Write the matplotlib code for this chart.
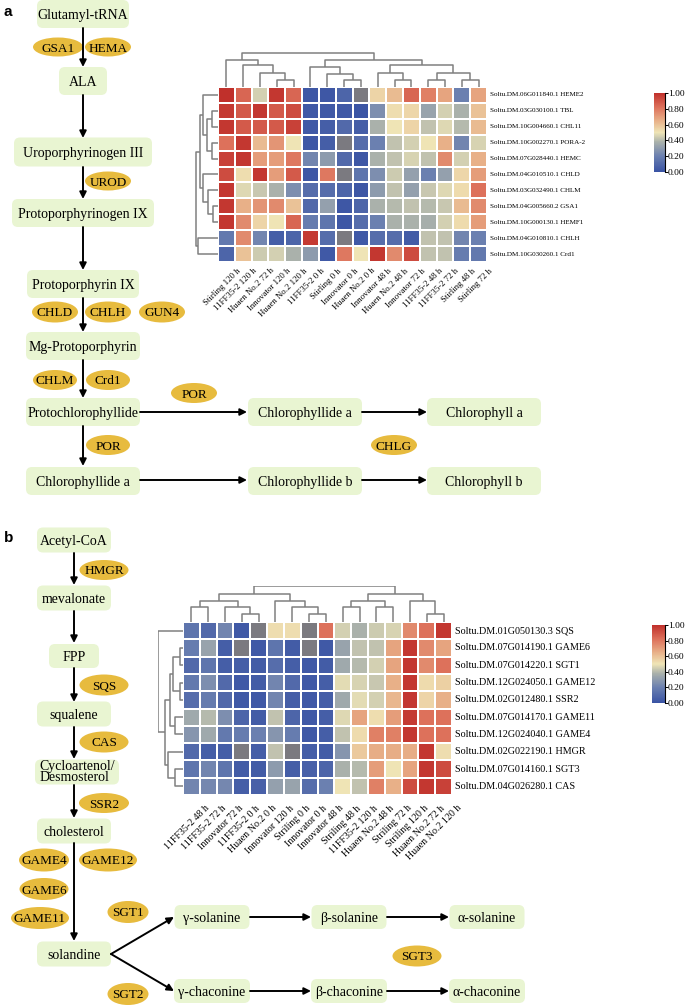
import numpy as np
import matplotlib
matplotlib.use('Agg')
import matplotlib.pyplot as plt
from matplotlib.patches import FancyBboxPatch, Ellipse
from matplotlib.colors import LinearSegmentedColormap

plt.rcParams['font.family'] = ['Liberation Serif', 'DejaVu Serif']

nan = np.nan

# ---- heatmap a : chlorophyll genes ----
samples_a = ['Stirling 120 h', '11FF35-2 120 h', 'Huaen No.2 72 h', 'Innovator 120 h',
             'Huaen No.2 120 h', '11FF35-2 0 h', 'Stirling 0 h', 'Innovator 0 h',
             'Huaen No.2 0 h', 'Innovator 48 h', 'Huaen No.2 48 h', 'Innovator 72 h',
             '11FF35-2 48 h', '11FF35-2 72 h', 'Stirling 48 h', 'Stirling 72 h']
genes_a = ['Soltu.DM.06G011840.1 HEME2', 'Soltu.DM.03G030100.1 TBL',
           'Soltu.DM.10G004660.1 CHL11', 'Soltu.DM.10G002270.1 PORA-2',
           'Soltu.DM.07G028440.1 HEMC', 'Soltu.DM.04G010510.1 CHLD',
           'Soltu.DM.03G032490.1 CHLM', 'Soltu.DM.04G005660.2 GSA1',
           'Soltu.DM.10G000130.1 HEMF1', 'Soltu.DM.04G010810.1 CHLH',
           'Soltu.DM.10G030260.1 Crd1']
expr_a = [
    [1.00, .85, .45, .98, .85, .02, .02, .08, nan, .55, .62, .85, .78, .68, .20, .68],
    [.97, .88, .98, .88, .92, .03, .03, .03, .01, .25, .52, .54, .33, .45, .38, .60],
    [.98, .88, .88, .88, .95, .03, .05, .10, .05, .38, .50, .55, .42, .47, .40, .62],
    [.82, .98, .62, .72, .50, .02, .05, nan, .12, .20, .42, .45, .50, .65, .22, .46],
    [.95, .98, .70, .70, .80, .22, .30, .10, .02, .38, .42, .46, .42, .75, .45, .65],
    [.92, .52, .98, .70, .88, .02, .80, nan, .15, .25, .44, .32, .20, .32, .54, .70],
    [.98, .47, .43, .38, .25, .12, .12, .08, .02, .30, .42, .32, .43, .47, .53, .82],
    [.98, .65, .72, .75, .60, .10, .32, .02, .08, .38, .40, .42, .40, .43, .62, .75],
    [.98, .75, .55, .50, .85, .18, .15, .02, .12, .20, .38, .38, .37, .45, .53, .70],
    [.17, .75, .22, .05, .08, .97, .12, nan, .03, .12, .12, .04, .42, .42, .22, .20],
    [.08, .60, .44, .45, .38, .30, .03, .80, .50, .98, .75, .92, .42, .42, .18, .17],
]
# dendrograms as (left, right, merge height in px)
col_tree_a = ((0, (1, (2, (3, 4, 7), 14), 22), 27),
              ((5, (6, (7, 8, 7), 13), 20),
               ((9, (10, 11, 7), 14), ((12, 13, 7), (14, 15, 7), 14), 22), 27), 34)
row_tree_a = ((((0, ((1, 2, 6), (3, 4, 6), 11), 15.5),
                (5, (6, (7, 8, 5), 10), 15.5), 18), (9, 10, 20), 22))

# ---- heatmap b : glycoalkaloid genes ----
samples_b = ['11FF35-2 48 h', '11FF35-2 72 h', 'Innovator 72 h', '11FF35-2 0 h',
             'Huaen No.2 0 h', 'Innovator 120 h', 'Striling 0 h', 'Innovator 0 h',
             'Innovator 48 h', 'Striling 48 h', '11FF35-2 120 h', 'Huaen No.2 48 h',
             'Striling 72 h', 'Striling 120 h', 'Huaen No.2 72 h', 'Huaen No.2 120 h']
genes_b = ['Soltu.DM.01G050130.3 SQS', 'Soltu.DM.07G014190.1 GAME6',
           'Soltu.DM.07G014220.1 SGT1', 'Soltu.DM.12G024050.1 GAME12',
           'Soltu.DM.02G012480.1 SSR2', 'Soltu.DM.07G014170.1 GAME11',
           'Soltu.DM.12G024040.1 GAME4', 'Soltu.DM.02G022190.1 HMGR',
           'Soltu.DM.07G014160.1 SGT3', 'Soltu.DM.04G026280.1 CAS']
expr_b = [
    [.15, .10, .22, .03, nan, .52, .52, nan, .82, .45, .38, .44, .46, .75, .82, .98],
    [.18, .33, .05, nan, .03, .15, .04, nan, .03, .33, .42, .42, .68, .98, .75, .68],
    [.10, .15, .05, .05, .04, .12, .05, .03, .04, .35, .40, .45, .68, .98, .75, .82],
    [.17, .25, .10, .03, .04, .22, .10, .03, .05, .48, .46, .43, .65, .98, .53, .56],
    [.12, .18, .10, .03, .03, .22, .05, .03, .05, .35, .48, .45, .63, .98, .55, .65],
    [.35, .40, .25, .08, .04, .42, .08, .03, .05, .47, .68, .52, .70, .97, .82, .82],
    [.28, .35, .17, .18, .20, .28, .18, .03, .05, .42, .53, .78, .78, .98, .82, .82],
    [.10, .05, .05, nan, .05, .42, nan, .05, .04, .28, .58, .66, .66, .66, .98, .52],
    [.15, .22, .15, .04, .04, .30, .05, .06, .08, .38, .40, .70, .50, .68, .98, .92],
    [.22, .23, .23, .05, .06, .32, .33, .12, .20, .50, .42, .78, .65, .92, .98, .95],
]
col_tree_b = ((((0, 1, 15), (2, (3, 4, 8), 15), 21), (5, (6, (7, 8, 8), 15), 21), 28),
              (((9, 10, 15), (11, 12, 15), 21), (13, (14, 15, 8), 21), 28), 36)
row_tree_b = (0, ((((1, 2, 3.3), (3, 4, 3.3), 10), (5, 6, 8), 13.3),
                  (7, (8, 9, 8.3), 15), 18.3), 25)

cbar_ticks = [0.0, 0.2, 0.4, 0.6, 0.8, 1.0]

W, H = 685, 1008
fig = plt.figure(figsize=(W / 100, H / 100), dpi=100)

cmap = LinearSegmentedColormap.from_list(
    'expr', [(0.0, '#3953a4'), (0.2, '#6b80b0'), (0.38, '#aab1ab'), (0.5, '#efe5b6'),
             (0.65, '#e8b088'), (0.82, '#dd715b'), (1.0, '#c0302b')])
cmap.set_bad('#7b7a80')


def px_axes(x, y, w, h):
    return fig.add_axes([x / W, 1 - (y + h) / H, w / W, h / H])


def draw_tree(ax, node, orient):
    if isinstance(node, int):
        return node + 0.5, 0.0
    left, right, hgt = node
    p1, h1 = draw_tree(ax, left, orient)
    p2, h2 = draw_tree(ax, right, orient)
    xs, ys = [p1, p1, p2, p2], [h1, hgt, hgt, h2]
    if orient == 'top':
        ax.plot(xs, ys, color='#808080', lw=1.1, solid_capstyle='butt')
    else:
        ax.plot(ys, xs, color='#808080', lw=1.1, solid_capstyle='butt')
    return (p1 + p2) / 2, hgt


def clustered_heatmap(values, genes, samples, col_tree, row_tree, box, dtop, dleft,
                      cbox, rowfs, colfs, lab_dx, lab_dy):
    x, y, w, h = box
    data = np.ma.masked_invalid(np.array(values, dtype=float))
    nr, nc = data.shape

    ax = px_axes(x, y, w, h)
    ax.pcolormesh(np.arange(nc + 1), np.arange(nr + 1), data, cmap=cmap, vmin=0, vmax=1,
                  edgecolors='white', linewidth=1.3)
    ax.set_xlim(0, nc)
    ax.set_ylim(nr, 0)
    ax.axis('off')
    for i, g in enumerate(genes):
        ax.text(nc + 0.15, i + 0.5, g, ha='left', va='center', fontsize=rowfs, clip_on=False)
    for j, s in enumerate(samples):
        ax.text(j + 0.5 + lab_dx, nr + lab_dy, s, ha='right', va='top', rotation=45,
                rotation_mode='anchor', fontsize=colfs, clip_on=False)

    axt = px_axes(x, y - dtop, w, dtop)
    draw_tree(axt, col_tree, 'top')
    axt.set_xlim(0, nc)
    axt.set_ylim(0, dtop)
    axt.axis('off')

    axl = px_axes(x - dleft, y, dleft, h)
    draw_tree(axl, row_tree, 'left')
    axl.set_xlim(dleft, 0)
    axl.set_ylim(nr, 0)
    axl.axis('off')

    cax = px_axes(*cbox)
    sm = plt.cm.ScalarMappable(cmap=cmap, norm=plt.Normalize(0, 1))
    cb = fig.colorbar(sm, cax=cax, ticks=cbar_ticks, format='%.2f')
    cb.outline.set_visible(False)
    cax.plot([1, 1], [0, 1], color='black', lw=0.8, transform=cax.transAxes, clip_on=False)
    cax.tick_params(length=2, width=0.7, pad=0.2, labelsize=6.8)


# ---- pathway drawing on a full-figure pixel axes ----
main = fig.add_axes([0, 0, 1, 1])
main.set_xlim(0, W)
main.set_ylim(H, 0)
main.axis('off')

BOX_C = '#e9f5d2'
ENZ_C = '#e7bb3e'


def node(label, cx, cy, w, h, fs=10):
    main.add_patch(FancyBboxPatch((cx - w / 2, cy - h / 2), w, h,
                                  boxstyle='round,pad=0,rounding_size=6',
                                  fc=BOX_C, ec='none'))
    va = 'center' if '\n' in label else 'center_baseline'
    main.text(cx, cy, label, ha='center', va=va, fontsize=fs, linespacing=0.8,
              multialignment='left')


def enzyme(label, cx, cy, w, h, fs=9.5):
    main.add_patch(Ellipse((cx, cy), w, h, fc=ENZ_C, ec='none'))
    main.text(cx, cy, label, ha='center', va='center_baseline', fontsize=fs)


def arrow(x0, y0, x1, y1):
    main.annotate('', xy=(x1, y1), xytext=(x0, y0),
                  arrowprops=dict(arrowstyle='-|>', color='black', lw=1.4,
                                  mutation_scale=10, shrinkA=0, shrinkB=0))


# panel a
main.text(4, 12, 'a', fontsize=11, fontweight='bold', family='Liberation Sans',
          ha='left', va='center')
for a in [(83, 28, 83, 67), (83, 95, 83, 138), (83, 167, 83, 199), (83, 227, 83, 270),
          (83, 298, 83, 332), (83, 360, 83, 398), (83, 426, 83, 466)]:
    arrow(*a)
arrow(140, 412, 247, 412)
arrow(362, 412, 427, 412)
arrow(140, 480, 247, 480)
arrow(362, 480, 427, 480)

node('Glutamyl-tRNA', 83, 14, 92, 28)
node('ALA', 83, 81, 48, 28)
node('Uroporphyrinogen III', 83, 152, 138, 29)
node('Protoporphyrinogen IX', 83, 213, 142, 28)
node('Protoporphyrin IX', 83, 284, 112, 28)
node('Mg-Protoporphyrin', 83, 346, 114, 28)
node('Protochlorophyllide', 83, 412, 114, 28)
node('Chlorophyllide a', 305, 412, 114, 28)
node('Chlorophyll a', 484, 412, 114, 28)
node('Chlorophyllide a', 83, 481, 114, 28)
node('Chlorophyllide b', 305, 481, 114, 28)
node('Chlorophyll b', 484, 481, 114, 28)

enzyme('GSA1', 58, 47, 50, 19)
enzyme('HEMA', 108, 47, 46, 19)
enzyme('UROD', 108, 181, 46, 19)
enzyme('CHLD', 55, 312, 46, 21)
enzyme('CHLH', 108, 312, 46, 21)
enzyme('GUN4', 162, 312, 46, 21)
enzyme('CHLM', 55, 380, 44, 20)
enzyme('Crd1', 108, 380, 44, 20)
enzyme('POR', 194, 393, 46, 20)
enzyme('POR', 108, 445, 44, 20)
enzyme('CHLG', 394, 445, 46, 20)

# panel b
main.text(4, 538, 'b', fontsize=11, fontweight='bold', family='Liberation Sans',
          ha='left', va='center')
for a in [(74, 553, 74, 585), (74, 611, 74, 643), (74, 668, 74, 702), (74, 727, 74, 759),
          (74, 785, 74, 818), (74, 843, 74, 941)]:
    arrow(*a)
arrow(111, 954, 174, 917)
arrow(111, 954, 174, 991)
arrow(250, 917, 311, 917)
arrow(387, 917, 449, 917)
arrow(250, 991, 311, 991)
arrow(387, 991, 449, 991)

node('Acetyl-CoA', 74, 540, 74, 25)
node('mevalonate', 74, 598, 74, 25)
node('FPP', 74, 656, 50, 24)
node('squalene', 74, 714, 74, 25)
node('Cycloartenol/\nDesmosterol', 77, 772, 84, 25)
node('cholesterol', 74, 831, 74, 25)
node('solandine', 74, 954, 74, 25)
node('γ-solanine', 212, 917, 75, 24)
node('β-solanine', 349, 917, 75, 24)
node('α-solanine', 487, 917, 75, 24)
node('γ-chaconine', 212, 991, 76, 24)
node('β-chaconine', 349, 991, 76, 24)
node('α-chaconine', 487, 991, 76, 24)

enzyme('HMGR', 104, 570, 49, 20)
enzyme('SQS', 104, 685, 49, 21)
enzyme('CAS', 104, 742, 49, 21)
enzyme('SSR2', 104, 803, 50, 20)
enzyme('GAME4', 44, 860, 50, 23)
enzyme('GAME12', 108, 860, 58, 23)
enzyme('GAME6', 44, 889, 49, 22)
enzyme('GAME11', 40, 918, 58, 22)
enzyme('SGT1', 128, 912, 41, 22)
enzyme('SGT2', 128, 994, 41, 22)
enzyme('SGT3', 417, 956, 49, 21)

# heatmaps
clustered_heatmap(expr_a, genes_a, samples_a, col_tree_a, row_tree_a,
                  (218, 87, 269, 175), 35, 23, (654, 93, 11, 79), 5.1, 6.3, 0.6, 0.3)
clustered_heatmap(expr_b, genes_b, samples_b, col_tree_b, row_tree_b,
                  (183, 622, 269, 173), 36, 25, (652, 625, 13, 78), 7.3, 7.2, 0.8, 0.5)

fig.savefig('out.png', dpi=100)
